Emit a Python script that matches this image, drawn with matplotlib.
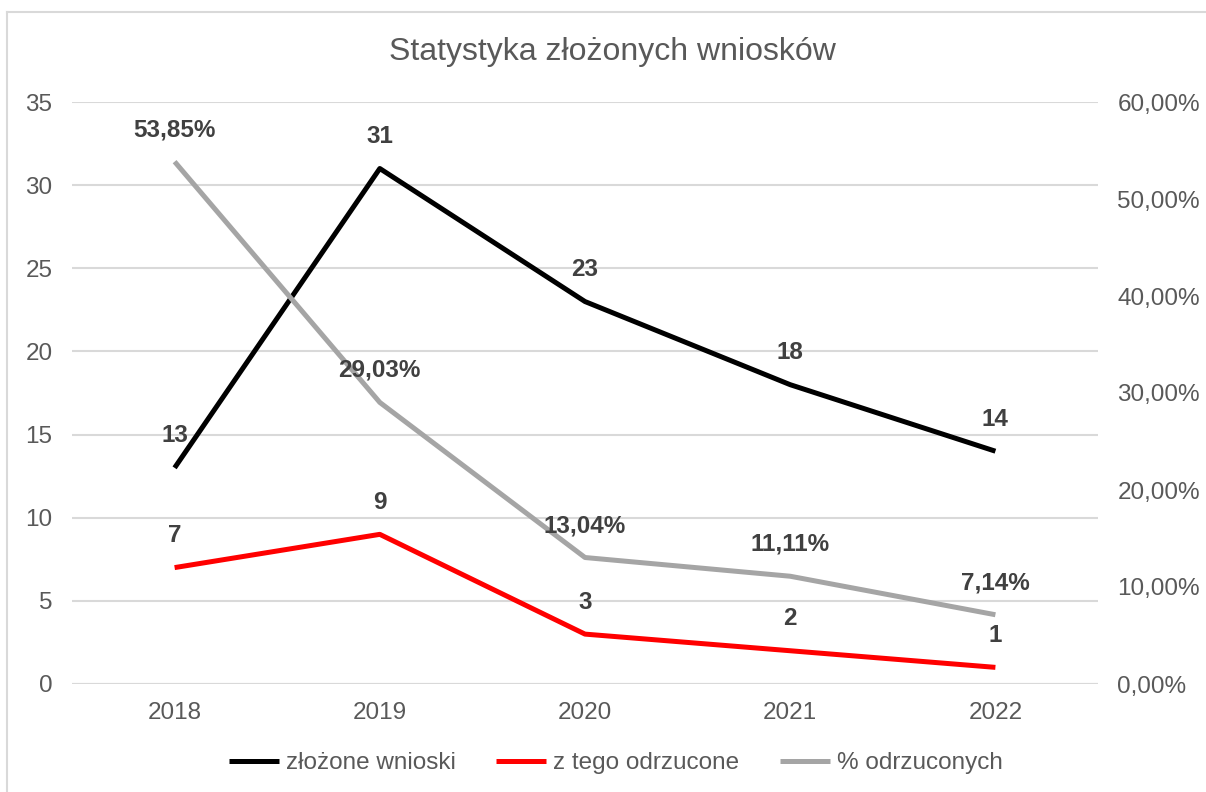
import matplotlib.pyplot as plt
from matplotlib.lines import Line2D
from matplotlib.ticker import FuncFormatter

plt.rcParams['font.family'] = ['Liberation Sans', 'DejaVu Sans']

years = ['2018', '2019', '2020', '2021', '2022']
zlozone = [13, 31, 23, 18, 14]
odrzucone = [7, 9, 3, 2, 1]
procent = [53.85, 29.03, 13.04, 11.11, 7.14]

txt_col = '#595959'
lab_col = '#404040'
grid_col = '#D9D9D9'
fs = 17.5

fig = plt.figure(figsize=(12.06, 7.92), dpi=100)
ax = fig.add_axes([72 / 1206, 1 - 684 / 792, (1098 - 72) / 1206, (684 - 102) / 792])
ax2 = ax.twinx()

x = list(range(len(years)))
l1, = ax.plot(x, zlozone, color='black', lw=3.6, label='złożone wnioski', solid_capstyle='butt')
l2, = ax.plot(x, odrzucone, color='#FF0000', lw=3.6, label='z tego odrzucone', solid_capstyle='butt')
l3, = ax2.plot(x, procent, color='#A5A5A5', lw=3.6, label='% odrzuconych', solid_capstyle='butt')

ax.set_xlim(-0.5, len(years) - 0.5)
ax.set_ylim(0, 35)
ax.set_yticks(range(0, 36, 5))
ax2.set_ylim(0, 60)
ax2.set_yticks(range(0, 61, 10))
ax2.yaxis.set_major_formatter(FuncFormatter(lambda v, p: f'{v:.2f}'.replace('.', ',') + '%'))

ax.set_xticks(x)
ax.set_xticklabels(years)
ax.grid(axis='y', color=grid_col, lw=1.5)
ax.set_axisbelow(True)
for a in (ax, ax2):
    for s in a.spines.values():
        s.set_visible(False)
    a.tick_params(length=0, labelsize=fs, labelcolor=txt_col)
ax.tick_params(axis='y', pad=14)
ax.tick_params(axis='x', pad=13)
ax2.tick_params(axis='y', pad=14)
ax.axhline(0, color=grid_col, lw=1.5)

for xi, v in zip(x, zlozone):
    ax.annotate(str(v), (xi, v), xytext=(0, 23), textcoords='offset points',
                ha='center', va='center', fontsize=fs, fontweight='bold', color=lab_col)
for xi, v in zip(x, odrzucone):
    ax.annotate(str(v), (xi, v), xytext=(0, 23), textcoords='offset points',
                ha='center', va='center', fontsize=fs, fontweight='bold', color=lab_col)
for xi, v in zip(x, procent):
    ax2.annotate(f'{v:.2f}'.replace('.', ',') + '%', (xi, v), xytext=(0, 23), textcoords='offset points',
                 ha='center', va='center', fontsize=fs, fontweight='bold', color=lab_col)

fig.text(612 / 1206, 1 - 52 / 792, 'Statystyka złożonych wniosków', ha='center', va='center',
         fontsize=23, color=txt_col)

fig.legend(handles=[l1, l2, l3], loc='center', bbox_to_anchor=(616 / 1206, 1 - 763 / 792),
           ncol=3, frameon=False, fontsize=fs, labelcolor=txt_col,
           handlelength=2.05, handletextpad=0.3, columnspacing=1.65)

# ramka wykresu
fig.add_artist(Line2D([7 / 1206, 7 / 1206], [0, 1 - 12 / 792], color=grid_col, lw=1.5, transform=fig.transFigure))
fig.add_artist(Line2D([7 / 1206, 1], [1 - 12 / 792, 1 - 12 / 792], color=grid_col, lw=1.5, transform=fig.transFigure))

fig.savefig('out.png', dpi=100)
